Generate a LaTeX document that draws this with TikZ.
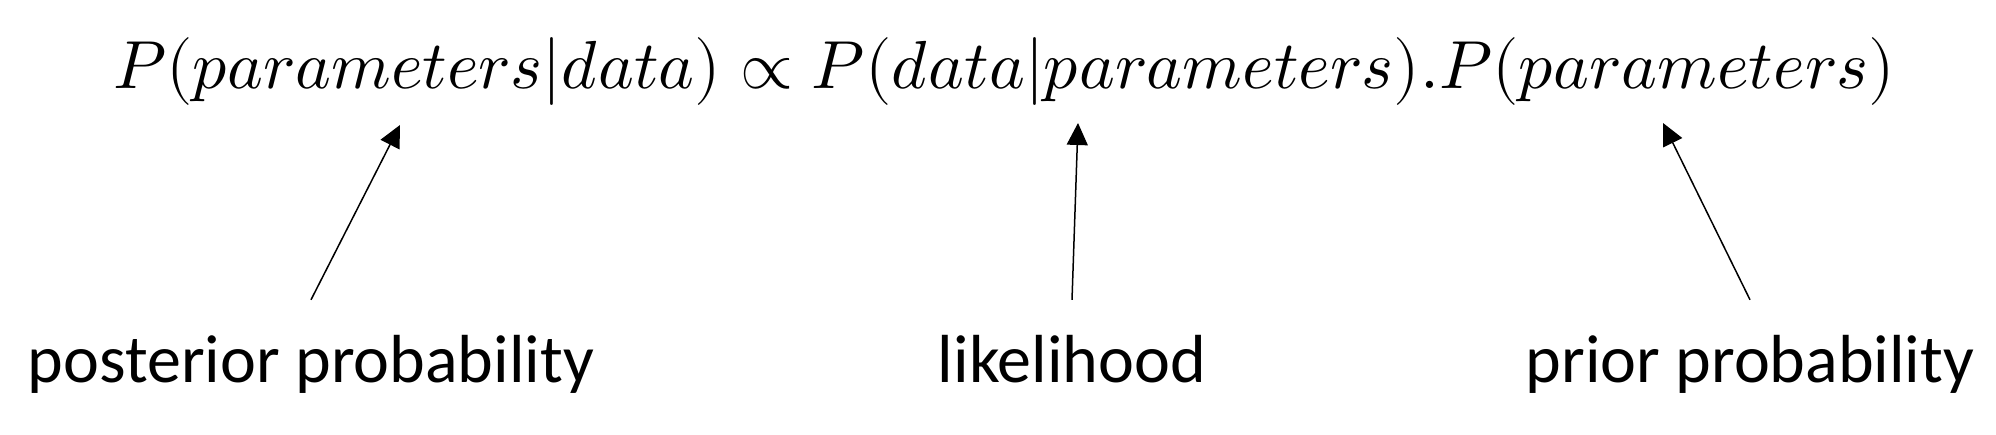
\documentclass[tikz,border=0pt]{standalone}
\usepackage{fontspec}
\usepackage{unicode-math}
\setmainfont{Carlito}
\setmathfont{Latin Modern Math}
\usepackage{xcolor}
\usetikzlibrary{arrows.meta}
\definecolor{BInk}{HTML}{000000}

\begin{document}
\begin{tikzpicture}[x=0.5pt, y=-0.5pt,
  eqn/.style={font=\fontsize{34}{41}\selectfont, text=BInk, anchor=base, inner sep=0pt},
  term/.style={font=\fontsize{34}{40}\selectfont, text=BInk, anchor=base, inner sep=0pt, outer ysep=17.5pt},
  pointer/.style={draw=BInk, line width=0.75pt, -{Triangle[length=11pt, width=10.5pt]}}]
\useasboundingbox (0,0) rectangle (1996,434);
\node[eqn] (bayes) at (1004,88) {$P(parameters|data) \propto P(data|parameters).P(parameters)$};
\coordinate (postTip) at (400,125);
\coordinate (likeTip) at (1078,123);
\coordinate (priorTip) at (1663,123);
\node[term] (post) at (311,382) {posterior probability};
\node[term] (like) at (1072,382) {likelihood};
\node[term] (prior) at (1750,382) {prior probability};
\draw[pointer] (post.north) -- (postTip);
\draw[pointer] (like.north) -- (likeTip);
\draw[pointer] (prior.north) -- (priorTip);
\end{tikzpicture}
\end{document}
